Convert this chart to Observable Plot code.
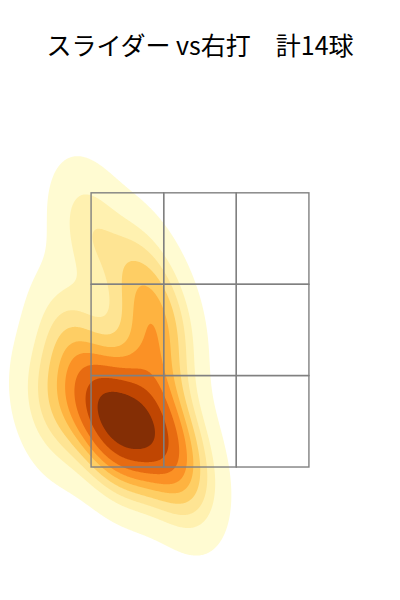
<!DOCTYPE html>
<html>
<head>
<meta charset="utf-8">
<script src="https://cdn.jsdelivr.net/npm/d3@7"></script>
<script src="https://cdn.jsdelivr.net/npm/@observablehq/plot@0.6"></script>
<style>
  html, body { margin: 0; padding: 0; background: #fff; }
  #title { height: 90px; box-sizing: border-box; padding-top: 29px; text-align: center;
           font-family: "Noto Sans CJK JP", "Noto Sans", sans-serif; font-size: 25px; line-height: 30px; color: #000; }
  svg { display: block; }
</style>
</head>
<body>
<div id="title"></div>
<div id="chart"></div>
<script>
const titleText = "スライダー vs右打　計14球";
// pitch locations (ft): horizontal from plate center, height above ground
const pitchX = [-0.734, -0.406, -0.242, -0.856, -0.734, -0.610, -0.512, -0.406, -0.299, -0.201, -0.570, -0.079, -0.980, -0.325];
const pitchY = [3.26, 2.92, 2.56, 2.45, 2.00, 1.91, 1.83, 1.81, 1.75, 1.70, 1.75, 1.41, 1.93, 2.35];
// strike zone edges
const zoneXEdges = [-0.708, -0.236, 0.236, 0.708];
const zoneYEdges = [1.5, 2.167, 2.833, 3.5];
// YlOrBr colour stops
const ylOrBr = ["#ffffe5", "#fff7bc", "#fee391", "#fec44f", "#fe9929", "#ec7014", "#cc4c02", "#993404", "#662506"];
const isoProportions = d3.range(10).map(i => 0.05 + i * 0.95 / 9);

// --- Gaussian KDE (Scott's rule, full covariance) ---
const n = pitchX.length;
const mx = d3.mean(pitchX), my = d3.mean(pitchY);
let sxx = 0, syy = 0, sxy = 0;
for (let i = 0; i < n; i++) {
  const dx = pitchX[i] - mx, dy = pitchY[i] - my;
  sxx += dx * dx; syy += dy * dy; sxy += dx * dy;
}
sxx /= n - 1; syy /= n - 1; sxy /= n - 1;
const f2 = Math.pow(n, -1 / 3);
const kxx = sxx * f2, kyy = syy * f2, kxy = sxy * f2;
const det = kxx * kyy - kxy * kxy;
const ixx = kyy / det, iyy = kxx / det, ixy = -kxy / det;
const norm = 1 / (n * 2 * Math.PI * Math.sqrt(det));
function kde(x, y) {
  let s = 0;
  for (let i = 0; i < n; i++) {
    const dx = x - pitchX[i], dy = y - pitchY[i];
    s += Math.exp(-0.5 * (ixx * dx * dx + 2 * ixy * dx * dy + iyy * dy * dy));
  }
  return s * norm;
}
// support grid (cut = 3 bandwidths)
const bwx = Math.sqrt(kxx), bwy = Math.sqrt(kyy);
const gx1 = d3.min(pitchX) - 3 * bwx, gx2 = d3.max(pitchX) + 3 * bwx;
const gy1 = d3.min(pitchY) - 3 * bwy, gy2 = d3.max(pitchY) + 3 * bwy;
const G = 200, vals = [];
for (let i = 0; i < G; i++) for (let j = 0; j < G; j++)
  vals.push(kde(gx1 + (gx2 - gx1) * i / (G - 1), gy1 + (gy2 - gy1) * j / (G - 1)));
const sorted = vals.slice().sort((a, b) => b - a);
const total = d3.sum(vals);
const cum = []; let acc = 0;
for (const v of sorted) { acc += v; cum.push(acc / total); }
const levels = isoProportions.map(p => {
  let idx = d3.bisectLeft(cum, 1 - p);
  idx = Math.min(idx, sorted.length - 1);
  return sorted[idx];
});
const lower = levels.slice(0, -1);
const cmap = d3.piecewise(d3.interpolateRgb, ylOrBr);
const bandColors = lower.map((l, i) => cmap(((l + levels[i + 1]) / 2 - levels[0]) / (levels[levels.length - 1] - levels[0])));

const cells = [];
for (let i = 0; i < 3; i++) for (let j = 0; j < 3; j++)
  cells.push({x1: zoneXEdges[i], x2: zoneXEdges[i + 1], y1: zoneYEdges[j], y2: zoneYEdges[j + 1]});

document.getElementById("title").textContent = titleText;

const chart = Plot.plot({
  width: 400,
  height: 510,
  margin: 0,
  x: {domain: [-1.3, 1.3], axis: null},
  y: {domain: [0.53, 4.25], axis: null},
  color: {type: "ordinal", domain: lower, range: bandColors},
  marks: [
    Plot.contour({fill: kde, x1: gx1, x2: gx2, y1: gy1, y2: gy2, thresholds: lower, pixelSize: 1}),
    Plot.rect(cells, {x1: "x1", x2: "x2", y1: "y1", y2: "y2", fill: "none", stroke: "#808080", strokeWidth: 1.4})
  ]
});
document.getElementById("chart").appendChild(chart);
</script>
</body>
</html>
